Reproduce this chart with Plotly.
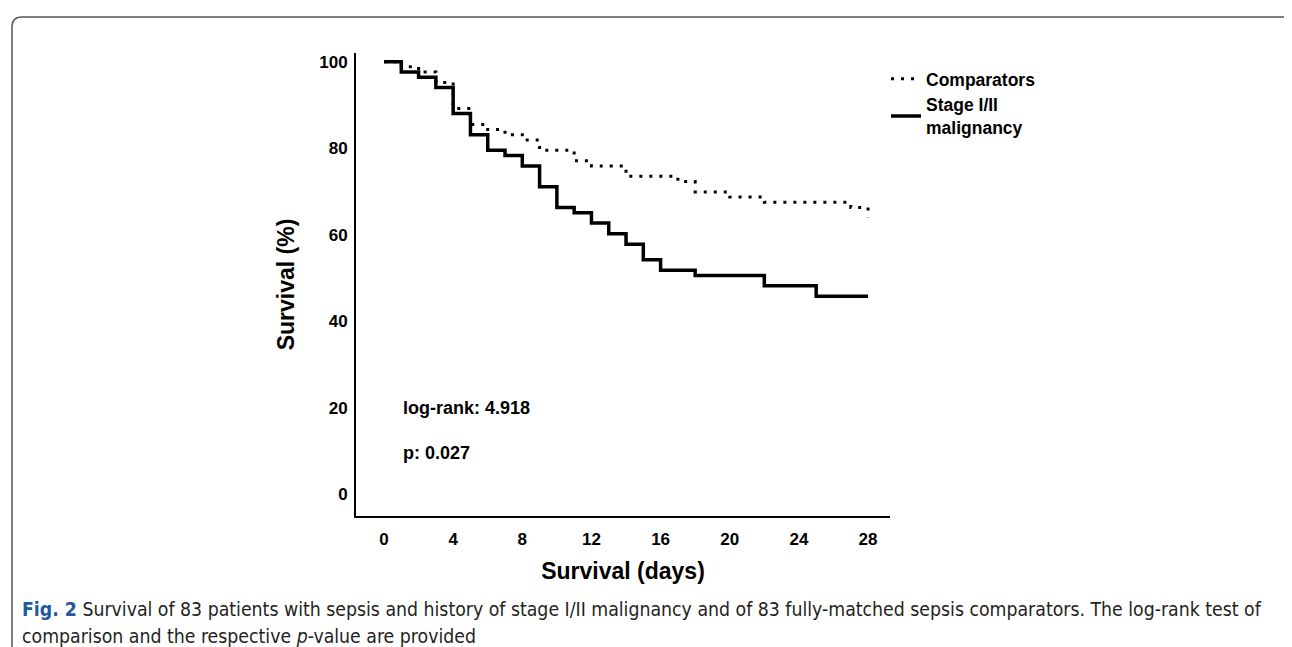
import plotly.graph_objects as go

# ---- data ----
comp_days = [0, 1, 2, 3, 4, 5, 6, 7, 8, 9, 11, 12, 14, 17, 18, 20, 22, 27, 28]
comp_surv = [100, 98.8, 97.6, 95.2, 89.2, 85.5, 84.3, 83.1, 81.9, 79.5, 77.1, 75.9,
             73.5, 72.3, 69.9, 68.7, 67.5, 66.3, 63.9]

mal_days = [0, 1, 2, 3, 4, 5, 6, 7, 8, 9, 10, 11, 12, 13, 14, 15, 16, 18, 22, 25, 28]
mal_surv = [100, 97.6, 96.4, 94.0, 88.0, 83.1, 79.5, 78.3, 75.9, 71.1, 66.3, 65.1,
            62.7, 60.2, 57.8, 54.2, 51.8, 50.6, 48.2, 45.8, 45.8]

x_ticks = [0, 4, 8, 12, 16, 20, 24, 28]
y_ticks = [0, 20, 40, 60, 80, 100]

# ---- layout geometry ----
W, H = 1292, 647
ML, MR, MT, MB = 348, 410, 45, 138.5
PW = W - ML - MR
PH = H - MT - MB


def px(xp):
    return (xp - ML) / PW


def py(yp):
    return (H - MB - yp) / PH


BASE = "Liberation Sans, Arial, sans-serif"
CAP = "Liberation Sans Narrow, Arial Narrow, DejaVu Sans Condensed, Roboto Condensed, sans-serif"

fig = go.Figure()
fig.add_trace(go.Scatter(
    x=comp_days, y=comp_surv, mode="lines", name="Comparators",
    line=dict(shape="hv", color="black", width=3, dash="3px,7px"),
))
fig.add_trace(go.Scatter(
    x=mal_days, y=mal_surv, mode="lines", name="Stage I/II<br>malignancy",
    line=dict(shape="hv", color="black", width=3.5),
))

fig.update_layout(
    width=W, height=H,
    margin=dict(l=ML, r=MR, t=MT, b=MB, pad=0),
    paper_bgcolor="white", plot_bgcolor="white",
    font=dict(family=BASE, color="black"),
    showlegend=True,
    legend=dict(
        x=px(878), y=py(53), xanchor="left", yanchor="top",
        font=dict(family=BASE, size=17.5, weight="bold", color="black"),
        bgcolor="rgba(0,0,0,0)", itemwidth=30, tracegroupgap=0,
    ),
    xaxis=dict(
        range=[-1.62, 29.27], tickvals=x_ticks, ticktext=[str(v) for v in x_ticks],
        showgrid=False, zeroline=False, showline=True, linecolor="black", linewidth=2,
        ticks="outside", ticklen=7, tickcolor="rgba(0,0,0,0)",
        tickfont=dict(family=BASE, size=17, weight="bold"),
        title=dict(text="Survival (days)", font=dict(family=BASE, size=23, weight="bold"),
                   standoff=14),
    ),
    yaxis=dict(
        range=[-5, 102], tickvals=y_ticks, ticktext=[str(v) for v in y_ticks],
        showgrid=False, zeroline=False, showline=True, linecolor="black", linewidth=2,
        ticks="outside", ticklen=3, tickcolor="rgba(0,0,0,0)",
        tickfont=dict(family=BASE, size=17, weight="bold"),
        title=dict(text="Survival (%)", font=dict(family=BASE, size=23, weight="bold"),
                   standoff=18),
    ),
)

fig.add_annotation(x=1.0, y=py(400), xref="x", yref="paper", text="log-rank: 4.918",
                   showarrow=False, xanchor="left", yanchor="middle",
                   font=dict(family=BASE, size=18, weight="bold", color="black"))
fig.add_annotation(x=1.0, y=py(445), xref="x", yref="paper", text="p: 0.027",
                   showarrow=False, xanchor="left", yanchor="middle",
                   font=dict(family=BASE, size=18, weight="bold", color="black"))

cap1 = ("<b><span style='color:#1e5aa0'>Fig. 2</span></b> Survival of 83 patients with sepsis "
        "and history of stage I/II malignancy and of 83 fully-matched sepsis comparators. "
        "The log-rank test of")
cap2 = "comparison and the respective <i>p</i>-value are provided"
fig.add_annotation(x=px(12), y=py(602), xref="paper", yref="paper", text=cap1,
                   showarrow=False, xanchor="left", yanchor="middle",
                   font=dict(family=CAP, size=19.3, color="#231f20"))
fig.add_annotation(x=px(12), y=py(629), xref="paper", yref="paper", text=cap2,
                   showarrow=False, xanchor="left", yanchor="middle",
                   font=dict(family=CAP, size=19.3, color="#231f20"))

# rounded frame around the figure
r = 10
x0, x1, y0, y1 = 4, 1288, 9, 660
path = (f"M {px(x0)},{py(y1)} L {px(x0)},{py(y0 + r)} "
        f"Q {px(x0)},{py(y0)} {px(x0 + r)},{py(y0)} "
        f"L {px(x1 - r)},{py(y0)} Q {px(x1)},{py(y0)} {px(x1)},{py(y0 + r)} "
        f"L {px(x1)},{py(y1)}")
fig.add_shape(type="path", path=path, xref="paper", yref="paper",
              line=dict(color="#555555", width=1.5))

fig.write_html("out.html")
